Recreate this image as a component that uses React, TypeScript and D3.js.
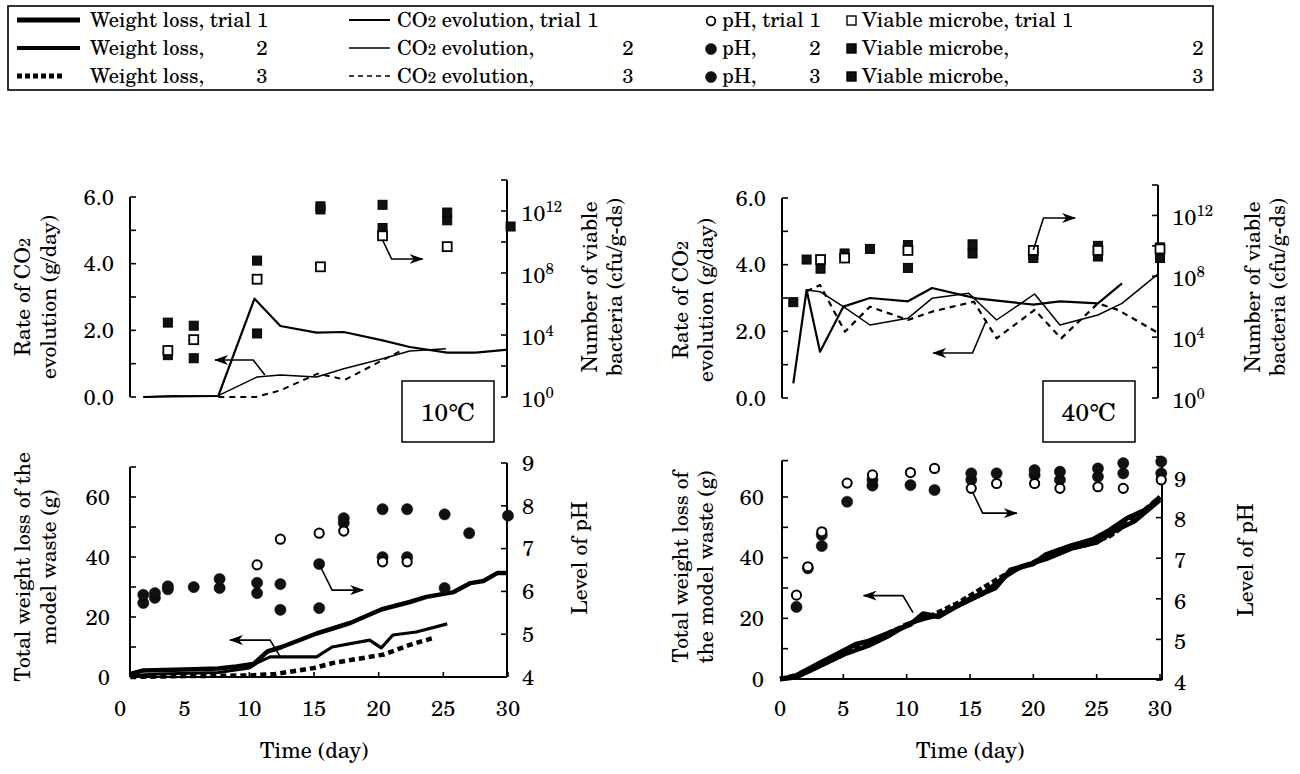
import React from 'react';
import * as d3 from 'd3';

type Pt = [number, number];

// ---------- data: 10℃ ----------
// CO2 evolution rate (g/day) vs day
const co2T1_10: Pt[] = [[1.8, 0], [4, 0.02], [7.6, 0.03], [10.4, 2.95], [12.4, 2.13], [15.2, 1.93], [17.3, 1.95], [20.3, 1.7], [22.4, 1.5], [25.3, 1.33], [27.5, 1.33], [30, 1.42]];
const co2T2_10: Pt[] = [[1.8, 0], [4, 0.03], [7.6, 0.04], [10.6, 0.6], [12.4, 0.66], [15.2, 0.6], [17.3, 0.85], [20.3, 1.15], [22.4, 1.38], [25.2, 1.45]];
const co2T3_10: Pt[] = [[7.6, 0], [10.5, 0], [12.4, 0.2], [15.3, 0.7], [17.4, 0.52], [20.3, 1.1], [21.8, 1.4]];
// viable microbes, log10(cfu/g-ds)
const cfuT1_10: Pt[] = [[3.7, 3.0], [5.7, 3.7], [10.6, 7.6], [15.5, 8.4], [20.3, 10.4], [25.3, 9.7]];
const cfuT2_10: Pt[] = [[3.7, 4.8], [5.7, 4.6], [10.6, 8.8], [15.5, 12.3], [20.3, 12.4], [25.3, 11.9], [30.2, 11.0]];
const cfuT3_10: Pt[] = [[3.7, 2.7], [5.7, 2.5], [10.6, 4.1], [15.5, 12.1], [20.3, 10.9], [25.3, 11.4]];
// total weight loss (g)
const wT1_10: Pt[] = [[0.8, 1.0], [1.8, 2.2], [5, 2.5], [7.6, 2.8], [9, 3.5], [10.3, 4.3], [11.4, 8.5], [12.5, 10], [15.2, 14.5], [17.8, 18], [20.2, 22.5], [22.4, 25], [23.7, 26.7], [25.8, 28.3], [27.1, 31.3], [28.1, 32], [29.2, 34.7], [30, 34.7]];
const wT2_10: Pt[] = [[0.8, 0.5], [3, 1], [7.6, 1.5], [10, 3], [10.6, 4.7], [11.6, 6.7], [15.2, 6.7], [16.4, 10], [19.3, 12.3], [20.2, 9.7], [21.1, 14], [22.9, 15], [25.3, 17.7]];
const wT3_10: Pt[] = [[0.8, 0], [5, 0.3], [10, 0.5], [12, 1], [15, 3], [16.5, 4.7], [19.3, 6.7], [20.4, 7.5], [22.4, 10.7], [24.2, 13]];
// pH
const phT1_10: Pt[] = [[10.6, 6.62], [12.4, 7.22], [15.4, 7.36], [17.3, 7.41], [20.3, 6.69], [22.2, 6.69]];
const phT2_10: Pt[] = [[1.8, 5.92], [2.7, 5.96], [3.7, 6.12], [5.7, 6.1], [7.7, 6.29], [10.6, 6.2], [12.4, 6.17], [15.4, 6.64], [17.3, 7.71], [20.3, 7.92], [22.2, 7.92], [25.1, 7.8], [27, 7.36], [30, 7.77]];
const phT3_10: Pt[] = [[1.8, 5.73], [2.7, 5.85], [3.7, 6.05], [7.7, 6.08], [10.6, 5.96], [12.4, 5.57], [15.4, 5.61], [17.3, 7.6], [20.3, 6.8], [22.2, 6.8], [25.1, 6.08]];

// ---------- data: 40℃ ----------
const co2T1_40: Pt[] = [[1.05, 0.44], [2.1, 3.24], [3.16, 1.39], [5, 2.74], [7.1, 3.0], [10.1, 2.9], [12, 3.3], [15.5, 2.99], [20, 2.8], [22.1, 2.9], [25.1, 2.84], [27, 3.44]];
const co2T2_40: Pt[] = [[2.1, 3.24], [3.16, 3.19], [5, 2.74], [7.1, 2.19], [10.1, 2.39], [12, 2.99], [14.9, 3.14], [17.1, 2.34], [20.1, 3.12], [22.1, 2.19], [25.1, 2.49], [27, 2.84], [29.9, 3.74]];
const co2T3_40: Pt[] = [[2.1, 3.2], [3.16, 3.39], [5.13, 1.99], [7.1, 2.74], [10.1, 2.34], [12, 2.59], [15.3, 2.89], [17.1, 1.79], [20.1, 2.64], [22.2, 1.79], [25.1, 2.84], [26.7, 2.64], [29.9, 1.94]];
const cfuT1_40: Pt[] = [[3.2, 9.1], [5.1, 9.2], [10.1, 9.7], [20, 9.7], [25.1, 9.7], [30, 9.8]];
const cfuT2_40: Pt[] = [[1.05, 6.3], [2.1, 9.1], [3.2, 8.5], [5.1, 9.5], [7.1, 9.8], [10.1, 10.05], [15.2, 10.1], [20, 9.4], [25.1, 10.0], [30, 9.9]];
const cfuT3_40: Pt[] = [[10.1, 8.55], [15.2, 9.5], [20, 9.2], [25.1, 9.3], [30, 9.2]];
const wT1_40: Pt[] = [[0, 0], [1, 0.5], [3, 5], [6, 11.5], [7, 12.5], [10.3, 18], [11.3, 21.5], [12.5, 20.5], [15, 26.5], [17, 30], [18.2, 36], [20, 38], [21, 41], [23, 44], [24.7, 46], [26, 49], [27.4, 53], [29, 56], [30, 60]];
const wT2_40: Pt[] = [[0, 0], [1.5, 1], [3, 4], [5, 8], [7, 11], [8.5, 14], [10.3, 18.5], [11.5, 20], [12.5, 21], [14, 24], [16, 28], [17.5, 33], [19, 37], [21, 39.5], [23, 43], [25, 45], [26.5, 49], [28, 52], [30, 59]];
const wT3_40: Pt[] = [[0, 0], [2, 2], [4, 6], [6, 10], [8, 14], [10, 18], [12, 21], [14, 25], [16, 30], [18, 35], [20, 38.5], [22, 42.5], [24, 44], [26, 47], [28, 53], [30, 60]];
const phT1_40: Pt[] = [[1.3, 6.09], [2.2, 6.79], [3.3, 7.65], [5.3, 8.85], [7.3, 9.05], [10.3, 9.11], [12.2, 9.21], [15.1, 8.72], [17.1, 8.84], [20.1, 8.84], [22.1, 8.72], [25.1, 8.76], [27.1, 8.72], [30.1, 8.93]];
const phT2_40: Pt[] = [[1.3, 5.8], [2.2, 6.75], [3.3, 7.57], [5.3, 8.39], [7.3, 8.93], [10.3, 8.8], [12.2, 8.68], [15.1, 9.09], [17.1, 9.09], [20.1, 9.17], [22.1, 9.13], [25.1, 9.21], [27.1, 9.34], [30.1, 9.38]];
const phT3_40: Pt[] = [[3.3, 7.3], [7.3, 8.79], [15.1, 8.93], [20.1, 9.05], [22.1, 8.93], [25.1, 9.01], [27.1, 9.09], [30.1, 9.09]];

// ticks
const dayTicks = [0, 5, 10, 15, 20, 25, 30];
const co2Ticks = [0, 1, 2, 3, 4, 5, 6];
const co2Labels = ['0.0', '2.0', '4.0', '6.0'];
const cfuTicks = [0, 2, 4, 6, 8, 10, 12, 14];
const cfuLabels = [0, 4, 8, 12];
const wTicks = [0, 10, 20, 30, 40, 50, 60, 70];
const wLabels = [0, 20, 40, 60];
const phTicks = [4, 5, 6, 7, 8, 9];

// annotation arrows, in data units of the named scale
const arrowTL_r: Pt[] = [[20.3, 4.71], [21.0, 4.14], [23.4, 4.14]];
const arrowTL_l: Pt[] = [[11.2, 0.66], [10.3, 1.11], [7.35, 1.11]];
const arrowTR_r: Pt[] = [[20.0, 4.44], [20.8, 5.4], [23.3, 5.4]];
const arrowTR_l: Pt[] = [[16.3, 2.34], [15.2, 1.35], [12.1, 1.35]];
const arrowBL_l: Pt[] = [[12.4, 6.7], [11.6, 12.3], [8.5, 12.3]];
const arrowBL_r: Pt[] = [[15.4, 6.64], [16.4, 6.03], [18.8, 6.03]];
const arrowBR_r: Pt[] = [[15.2, 8.63], [16.0, 8.11], [18.7, 8.11]];
const arrowBR_l: Pt[] = [[10.5, 21.9], [9.7, 27.5], [6.6, 27.5]];

// ---------- scales ----------
const x10 = d3.scaleLinear().domain([0, 30]).range([120, 508]);
const x40 = d3.scaleLinear().domain([0, 30]).range([780, 1160]);
const co2Y10 = d3.scaleLinear().domain([0, 6]).range([397, 197]);
const co2Y40 = d3.scaleLinear().domain([0, 6]).range([398, 198]);
const cfuY10 = d3.scaleLog().domain([1, 1e14]).range([397, 180]);
const cfuY40 = d3.scaleLog().domain([1, 1e14]).range([398, 185]);
const wY10 = d3.scaleLinear().domain([0, 60]).range([677, 497]);
const wY40 = d3.scaleLinear().domain([0, 60]).range([679, 497]);
const phY10 = d3.scaleLinear().domain([4, 9]).range([677, 463]);
const phY40 = d3.scaleLinear().domain([4, 9]).range([680, 477]);

const FONT = '"TeX Gyre Schola", "DejaVu Serif", serif';
const INK = '#000';
const FS = 21;

type Sc = (v: number) => number;

const path = (xs: Sc, ys: Sc, data: Pt[]) =>
  d3.line<Pt>().x(d => xs(d[0])).y(d => ys(d[1]))(data) || '';

const logY = (s: d3.ScaleLogarithmic<number, number>) => (e: number) => s(Math.pow(10, e));

function T(props: React.SVGProps<SVGTextElement>) {
  return <text fontFamily={FONT} fontSize={FS} dy="0.35em" fill={INK} {...props} />;
}

function Squares({ xs, ys, data, open }: { xs: Sc; ys: Sc; data: Pt[]; open?: boolean }) {
  const s = 9;
  return (
    <g>
      {data.map((d, i) => (
        <rect key={i} x={xs(d[0]) - s / 2} y={ys(d[1]) - s / 2} width={s} height={s}
          fill={open ? '#fff' : '#111'} stroke={INK} strokeWidth={open ? 1.8 : 1} />
      ))}
    </g>
  );
}

function Dots({ xs, ys, data, open }: { xs: Sc; ys: Sc; data: Pt[]; open?: boolean }) {
  return (
    <g>
      {data.map((d, i) => (
        <circle key={i} cx={xs(d[0])} cy={ys(d[1])} r={open ? 4.6 : 5.6}
          fill={open ? '#fff' : '#111'} stroke={INK} strokeWidth={open ? 2 : 0.5} />
      ))}
    </g>
  );
}

function Arrow({ xs, ys, pts }: { xs: Sc; ys: Sc; pts: Pt[] }) {
  return (
    <polyline points={pts.map(p => `${xs(p[0])},${ys(p[1])}`).join(' ')}
      fill="none" stroke={INK} strokeWidth={1.6} markerEnd="url(#ah)" />
  );
}

// vertical axis: ticks point inward (dir = +1 to the right, -1 to the left)
function VAxis({ x, ys, ticks, dir }: { x: number; ys: Sc; ticks: number[]; dir: number }) {
  const ys0 = ticks.map(ys);
  return (
    <g stroke={INK}>
      <line x1={x} x2={x} y1={Math.min(...ys0)} y2={Math.max(...ys0)} strokeWidth={2} />
      {ticks.map(t => (
        <line key={t} x1={x} x2={x + dir * 6} y1={ys(t)} y2={ys(t)} strokeWidth={1.6} />
      ))}
    </g>
  );
}

function XAxis({ xs, x0, x1, y }: { xs: Sc; x0: number; x1: number; y: number }) {
  return (
    <g>
      <line x1={x0} x2={x1} y1={y} y2={y} stroke={INK} strokeWidth={2} />
      {dayTicks.filter(t => t > 0).map(t => (
        <line key={t} x1={xs(t)} x2={xs(t)} y1={y} y2={y - 5} stroke={INK} strokeWidth={1.6} />
      ))}
      {dayTicks.map(t => (
        <T key={'l' + t} x={xs(t)} y={708} textAnchor="middle" fontSize={22}>{t}</T>
      ))}
      <T x={(xs(0) + xs(30)) / 2} y={750} textAnchor="middle" fontSize={22}>Time (day)</T>
    </g>
  );
}

function VTitle({ x, y, lines }: { x: number[]; y: number; lines: React.ReactNode[] }) {
  return (
    <g>
      {lines.map((l, i) => (
        <T key={i} transform={`translate(${x[i]},${y}) rotate(-90)`} textAnchor="middle" fontSize={21.5}>{l}</T>
      ))}
    </g>
  );
}

const co2Title = [
  <>Rate of CO<tspan fontSize={16}>2</tspan></>,
  'evolution (g/day)',
];
const cfuTitle = ['Number of viable', 'bacteria (cfu/g-ds)'];

function CfuLabels({ x, ys }: { x: number; ys: (e: number) => number }) {
  return (
    <g>
      {cfuLabels.map(e => (
        <T key={e} x={x} y={ys(e) + 2} fontSize={22}>10<tspan dy="-9" fontSize={15}>{e}</tspan></T>
      ))}
    </g>
  );
}

function TempBox({ x, y, label }: { x: number; y: number; label: string }) {
  return (
    <g>
      <rect x={x} y={y} width={92} height={61} fill="#fff" stroke={INK} strokeWidth={1.5} />
      <T x={x + 46} y={y + 31} textAnchor="middle" fontSize={25}>{label}</T>
    </g>
  );
}

// legend
const weightLegend = ['Weight loss, trial 1', 'Weight loss,', 'Weight loss,'];
const co2Legend = ['CO2 evolution, trial 1', 'CO2 evolution,', 'CO2 evolution,'];
const phLegend = ['pH, trial 1', 'pH,', 'pH,'];
const cfuLegend = ['Viable microbe, trial 1', 'Viable microbe,', 'Viable microbe,'];
const trialNums = ['', '2', '3'];

function Legend() {
  const rows = [20, 48, 76];
  const co2Txt = (s: string) => <>{s.slice(0, 2)}<tspan fontSize={15}>2</tspan>{s.slice(3)}</>;
  return (
    <g>
      <rect x={8} y={6} width={1205} height={84} fill="#fff" stroke={INK} strokeWidth={1.6} />
      {rows.map((y, i) => (
        <g key={i}>
          <line x1={17} x2={i === 2 ? 62 : 80} y1={y} y2={y} stroke={INK}
            strokeWidth={i === 1 ? 4 : 5}
            strokeDasharray={i === 2 ? '5 3' : undefined} />
          <T x={90} y={y} fontSize={20.5}>{weightLegend[i]}</T>
          <T x={262} y={y} fontSize={20.5} textAnchor="middle">{trialNums[i]}</T>
          <line x1={349} x2={390} y1={y} y2={y} stroke={INK}
            strokeWidth={i === 0 ? 2.2 : 1.6}
            strokeDasharray={i === 2 ? '5 4' : undefined} />
          <T x={397} y={y} fontSize={20.5}>{co2Txt(co2Legend[i])}</T>
          <T x={628} y={y} fontSize={20.5} textAnchor="middle">{trialNums[i]}</T>
          <circle cx={711} cy={y + 1} r={i === 0 ? 4.3 : 5.5} fill={i === 0 ? '#fff' : '#111'} stroke={INK} strokeWidth={i === 0 ? 1.8 : 0.5} />
          <T x={722} y={y} fontSize={20.5}>{phLegend[i]}</T>
          <T x={815} y={y} fontSize={20.5} textAnchor="middle">{trialNums[i]}</T>
          <rect x={847} y={y - 4} width={9} height={9} fill={i === 0 ? '#fff' : '#111'} stroke={INK} strokeWidth={1.4} />
          <T x={862} y={y} fontSize={20.5}>{cfuLegend[i]}</T>
          <T x={1198} y={y} fontSize={20.5} textAnchor="middle">{trialNums[i]}</T>
        </g>
      ))}
    </g>
  );
}

export default function App() {
  const cfu10 = logY(cfuY10);
  const cfu40 = logY(cfuY40);
  const thin = { fill: 'none', stroke: INK, strokeLinejoin: 'round' as const };

  return (
    <svg width={1300} height={774} style={{ position: 'absolute', left: 0, top: 0, display: 'block' }}>
      <defs>
        <marker id="ah" viewBox="0 0 14 10" refX="13" refY="5" markerWidth="14" markerHeight="10"
          markerUnits="userSpaceOnUse" orient="auto">
          <path d="M0,0 L14,5 L0,10 L4,5 Z" fill={INK} />
        </marker>
      </defs>
      <rect width={1300} height={774} fill="#fff" />

      <Legend />

      {/* ---------- top-left: CO2 10℃ ---------- */}
      <VAxis x={130} ys={co2Y10} ticks={co2Ticks} dir={1} />
      <VAxis x={507} ys={cfu10} ticks={cfuTicks} dir={-1} />
      {co2Labels.map((l, i) => (
        <T key={l} x={114} y={co2Y10(i * 2)} textAnchor="end" fontSize={22}>{l}</T>
      ))}
      <CfuLabels x={521} ys={cfu10} />
      <VTitle x={[22, 48]} y={297} lines={co2Title} />
      <VTitle x={[589, 614]} y={287} lines={cfuTitle} />
      <path d={path(x10, co2Y10, co2T1_10)} {...thin} strokeWidth={2.2} />
      <path d={path(x10, co2Y10, co2T2_10)} {...thin} strokeWidth={1.5} />
      <path d={path(x10, co2Y10, co2T3_10)} {...thin} strokeWidth={2} strokeDasharray="6 5" />
      <Squares xs={x10} ys={cfu10} data={cfuT3_10} />
      <Squares xs={x10} ys={cfu10} data={cfuT2_10} />
      <Squares xs={x10} ys={cfu10} data={cfuT1_10} open />
      <Arrow xs={x10} ys={co2Y10} pts={arrowTL_r} />
      <Arrow xs={x10} ys={co2Y10} pts={arrowTL_l} />
      <TempBox x={402} y={381} label="10℃" />

      {/* ---------- top-right: CO2 40℃ ---------- */}
      <VAxis x={782} ys={co2Y40} ticks={co2Ticks} dir={1} />
      <VAxis x={1158} ys={cfu40} ticks={cfuTicks} dir={-1} />
      {co2Labels.map((l, i) => (
        <T key={l} x={766} y={co2Y40(i * 2)} textAnchor="end" fontSize={22}>{l}</T>
      ))}
      <CfuLabels x={1172} ys={cfu40} />
      <VTitle x={[680, 705]} y={300} lines={co2Title} />
      <VTitle x={[1252, 1277]} y={287} lines={cfuTitle} />
      <path d={path(x40, co2Y40, co2T1_40)} {...thin} strokeWidth={2.2} />
      <path d={path(x40, co2Y40, co2T2_40)} {...thin} strokeWidth={1.5} />
      <path d={path(x40, co2Y40, co2T3_40)} {...thin} strokeWidth={2.2} strokeDasharray="6 5" />
      <Squares xs={x40} ys={cfu40} data={cfuT3_40} />
      <Squares xs={x40} ys={cfu40} data={cfuT2_40} />
      <Squares xs={x40} ys={cfu40} data={cfuT1_40} open />
      <Arrow xs={x40} ys={co2Y40} pts={arrowTR_r} />
      <Arrow xs={x40} ys={co2Y40} pts={arrowTR_l} />
      <TempBox x={1043} y={381} label="40℃" />

      {/* ---------- bottom-left: weight / pH 10℃ ---------- */}
      <VAxis x={130} ys={wY10} ticks={wTicks} dir={1} />
      <VAxis x={507} ys={phY10} ticks={phTicks} dir={-1} />
      <XAxis xs={x10} x0={130} x1={507} y={677} />
      {wLabels.map(l => (
        <T key={l} x={110} y={wY10(l)} textAnchor="end" fontSize={22}>{l}</T>
      ))}
      {phTicks.map(l => (
        <T key={l} x={528} y={phY10(l)} textAnchor="middle" fontSize={22}>{l}</T>
      ))}
      <VTitle x={[22, 48]} y={567} lines={['Total weight loss of the', 'model waste  (g)']} />
      <VTitle x={[579]} y={558} lines={['Level of pH']} />
      <path d={path(x10, wY10, wT1_10)} {...thin} strokeWidth={4.5} />
      <path d={path(x10, wY10, wT2_10)} {...thin} strokeWidth={3.2} />
      <path d={path(x10, wY10, wT3_10)} {...thin} strokeWidth={4.5} strokeDasharray="6 4" strokeLinejoin="miter" />
      <Dots xs={x10} ys={phY10} data={phT3_10} />
      <Dots xs={x10} ys={phY10} data={phT2_10} />
      <Dots xs={x10} ys={phY10} data={phT1_10} open />
      <Arrow xs={x10} ys={wY10} pts={arrowBL_l} />
      <Arrow xs={x10} ys={phY10} pts={arrowBL_r} />

      {/* ---------- bottom-right: weight / pH 40℃ ---------- */}
      <VAxis x={782} ys={wY40} ticks={[0, 10, 20, 30, 40, 50, 60, 72]} dir={1} />
      <VAxis x={1162} ys={phY40} ticks={[4, 5, 6, 7, 8, 9, 9.5]} dir={-1} />
      <XAxis xs={x40} x0={782} x1={1162} y={679} />
      {wLabels.map(l => (
        <T key={l} x={764} y={wY40(l)} textAnchor="end" fontSize={22}>{l}</T>
      ))}
      {phTicks.map(l => (
        <T key={l} x={1180} y={phY40(l) + 2} textAnchor="middle" fontSize={22}>{l}</T>
      ))}
      <VTitle x={[680, 705]} y={567} lines={['Total weight loss of', 'the model waste  (g)']} />
      <VTitle x={[1245]} y={560} lines={['Level of pH']} />
      <path d={path(x40, wY40, wT1_40)} {...thin} strokeWidth={5} />
      <path d={path(x40, wY40, wT2_40)} {...thin} strokeWidth={4.5} />
      <path d={path(x40, wY40, wT3_40)} {...thin} strokeWidth={4.5} strokeDasharray="6 3" />
      <Dots xs={x40} ys={phY40} data={phT3_40} />
      <Dots xs={x40} ys={phY40} data={phT2_40} />
      <Dots xs={x40} ys={phY40} data={phT1_40} open />
      <Arrow xs={x40} ys={phY40} pts={arrowBR_r} />
      <Arrow xs={x40} ys={wY40} pts={arrowBR_l} />
    </svg>
  );
}
